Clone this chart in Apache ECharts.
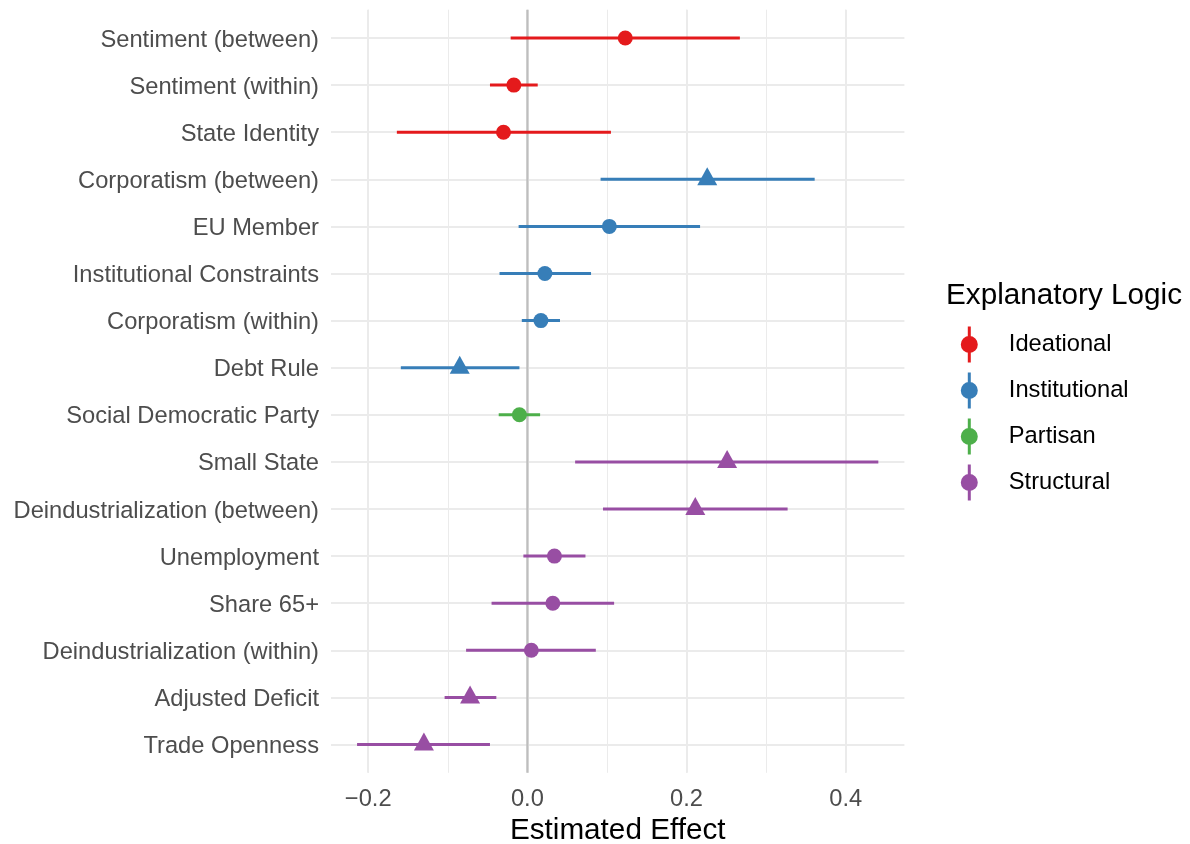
<!DOCTYPE html>
<html>
<head>
<meta charset="utf-8">
<title>Estimated Effects by Explanatory Logic</title>
<script src="https://cdn.jsdelivr.net/npm/echarts@6/dist/echarts.min.js"></script>
<style>
  html, body { margin: 0; padding: 0; background: #ffffff; }
  #chart { width: 1190px; height: 844px; }
</style>
</head>
<body>
<div id="chart"></div>
<script>
// Coefficient estimates with confidence intervals, top row first
const categories = [
  'Sentiment (between)', 'Sentiment (within)', 'State Identity',
  'Corporatism (between)', 'EU Member', 'Institutional Constraints',
  'Corporatism (within)', 'Debt Rule', 'Social Democratic Party',
  'Small State', 'Deindustrialization (between)', 'Unemployment',
  'Share 65+', 'Deindustrialization (within)', 'Adjusted Deficit',
  'Trade Openness'
];
const estimates = [0.123, -0.017, -0.030, 0.226, 0.103, 0.022, 0.017, -0.085,
  -0.010, 0.251, 0.211, 0.034, 0.032, 0.005, -0.072, -0.130];
const lower = [-0.021, -0.047, -0.164, 0.092, -0.011, -0.035, -0.007, -0.159,
  -0.036, 0.060, 0.095, -0.005, -0.045, -0.077, -0.104, -0.214];
const upper = [0.267, 0.013, 0.105, 0.361, 0.217, 0.080, 0.041, -0.010,
  0.016, 0.441, 0.327, 0.073, 0.109, 0.086, -0.039, -0.047];
const logic = ['Ideational', 'Ideational', 'Ideational',
  'Institutional', 'Institutional', 'Institutional', 'Institutional', 'Institutional',
  'Partisan',
  'Structural', 'Structural', 'Structural', 'Structural', 'Structural', 'Structural', 'Structural'];
// Estimates whose interval excludes zero are drawn as triangles
const significant = [false, false, false, true, false, false, false, true,
  false, true, true, false, false, false, true, true];
const logicGroups = ['Ideational', 'Institutional', 'Partisan', 'Structural'];
const referenceLine = [0];

const groupColors = {
  Ideational: '#E41A1C',
  Institutional: '#377EB8',
  Partisan: '#4DAF4A',
  Structural: '#984EA3'
};

// Panel range: data extent padded by 5% on each side
const dataMin = Math.min.apply(null, lower);
const dataMax = Math.max.apply(null, upper);
const pad = 0.05 * (dataMax - dataMin);
const xMin = dataMin - pad;
const xMax = dataMax + pad;

const FONT = 'Liberation Sans, Arial, Helvetica, sans-serif';
const GRID_COLOR = '#EBEBEB';
const MINUS = '\u2212';

function fmtTick(v) {
  const r = Math.round(v * 10) / 10;
  const s = Math.abs(r).toFixed(1);
  return r < 0 ? MINUS + s : s;
}

const PANEL_LEFT = 331;
const PANEL_RIGHT = 1190 - 904.4;

const chart = echarts.init(document.getElementById('chart'), null, { renderer: 'canvas' });

const errorBarData = categories.map((c, i) => [lower[i], upper[i], i]);

const pointSeries = logicGroups.map(g => ({
  name: g,
  type: 'scatter',
  xAxisIndex: 2,
  yAxisIndex: 1,
  z: 5,
  itemStyle: { color: groupColors[g], opacity: 1 },
  data: categories.map((c, i) => i).filter(i => logic[i] === g).map(i => ({
    value: [estimates[i], i],
    symbol: significant[i] ? 'triangle' : 'circle',
    symbolSize: significant[i] ? [20, 18] : 15,
    symbolOffset: significant[i] ? [0, -3] : [0, 0]
  })),
  emphasis: { disabled: true },
  silent: true
}));

const option = {
  backgroundColor: '#ffffff',
  animation: false,
  textStyle: { fontFamily: FONT },
  title: {
    text: 'Explanatory Logic',
    left: 946,
    top: 281,
    padding: 0,
    textStyle: { fontFamily: FONT, fontSize: 29.7, fontWeight: 'normal', color: '#000000' }
  },
  legend: {
    orient: 'vertical',
    left: 960.8,
    top: 326.5,
    itemWidth: 17,
    itemHeight: 36,
    itemGap: 10,
    padding: 0,
    selectedMode: false,
    data: logicGroups.map(g => ({
      name: g,
      icon: 'path://M7,0L10,0L10,36L7,36Z M17,18A8.5,8.5,0,1,1,0,18A8.5,8.5,0,1,1,17,18Z',
      itemStyle: { color: groupColors[g] }
    })),
    textStyle: { fontFamily: FONT, fontSize: 23.7, color: '#000000', padding: [2, 0, 0, 26] }
  },
  grid: [
    // full panel: vertical grid lines, zero line and x labels
    { left: PANEL_LEFT, right: PANEL_RIGHT, top: 9.7, bottom: 844 - 772.8,
      containLabel: false, outerBoundsMode: 'none' },
    // row area: horizontal grid lines, intervals and estimates
    { left: PANEL_LEFT, right: PANEL_RIGHT, top: 38, bottom: 844 - 744.5,
      containLabel: false, outerBoundsMode: 'none' }
  ],
  xAxis: [
    {
      // minor grid lines every 0.1
      type: 'value', gridIndex: 0, position: 'bottom', min: xMin, max: xMax, splitNumber: 5,
      axisLine: { show: false }, axisTick: { show: false }, axisLabel: { show: false },
      splitLine: { show: true, showMinLine: false, showMaxLine: false,
        lineStyle: { color: GRID_COLOR, width: 1 } }
    },
    {
      // major grid lines and tick labels every 0.2
      type: 'value', gridIndex: 0, position: 'bottom', offset: 0,
      min: xMin, max: xMax, splitNumber: 3,
      axisLine: { show: false }, axisTick: { show: false },
      axisLabel: {
        show: true, showMinLabel: false, showMaxLabel: false, margin: 14.5,
        fontFamily: FONT, fontSize: 23.7, color: '#4D4D4D',
        formatter: v => fmtTick(v)
      },
      splitLine: { show: true, showMinLine: false, showMaxLine: false,
        lineStyle: { color: GRID_COLOR, width: 2 } },
      name: 'Estimated Effect',
      nameLocation: 'middle',
      nameGap: 41,
      nameTextStyle: { fontFamily: FONT, fontSize: 29.7, color: '#000000' }
    },
    {
      type: 'value', gridIndex: 1, position: 'bottom', min: xMin, max: xMax,
      show: false, splitLine: { show: false }
    }
  ],
  yAxis: [
    {
      type: 'value', gridIndex: 0, min: 0, max: 1, show: false, splitLine: { show: false }
    },
    {
      type: 'value', gridIndex: 1, min: 0, max: categories.length - 1, interval: 1,
      inverse: true,
      axisLine: { show: false }, axisTick: { show: false },
      axisLabel: {
        margin: 12, fontFamily: FONT, fontSize: 23.7, color: '#4D4D4D',
        verticalAlign: 'top', lineHeight: 4,
        formatter: v => categories[Math.round(v)] || ''
      },
      splitLine: { show: true, lineStyle: { color: GRID_COLOR, width: 2 } }
    }
  ],
  series: [
    {
      // vertical reference line at zero across the whole panel
      type: 'custom',
      xAxisIndex: 1,
      yAxisIndex: 0,
      z: 2,
      silent: true,
      data: referenceLine.map(v => [v]),
      renderItem: (params, api) => {
        const a = api.coord([api.value(0), 0]);
        const b = api.coord([api.value(0), 1]);
        return {
          type: 'line',
          shape: { x1: a[0], y1: a[1], x2: b[0], y2: b[1] },
          style: { stroke: '#BEBEBE', lineWidth: 2.2 }
        };
      }
    },
    {
      // confidence interval segments
      type: 'custom',
      xAxisIndex: 2,
      yAxisIndex: 1,
      z: 3,
      silent: true,
      data: errorBarData,
      renderItem: (params, api) => {
        const idx = api.value(2);
        const a = api.coord([api.value(0), idx]);
        const b = api.coord([api.value(1), idx]);
        return {
          type: 'line',
          shape: { x1: a[0], y1: a[1], x2: b[0], y2: b[1] },
          style: { stroke: groupColors[logic[idx]], lineWidth: 3 }
        };
      }
    }
  ].concat(pointSeries)
};

chart.setOption(option);
</script>
</body>
</html>
